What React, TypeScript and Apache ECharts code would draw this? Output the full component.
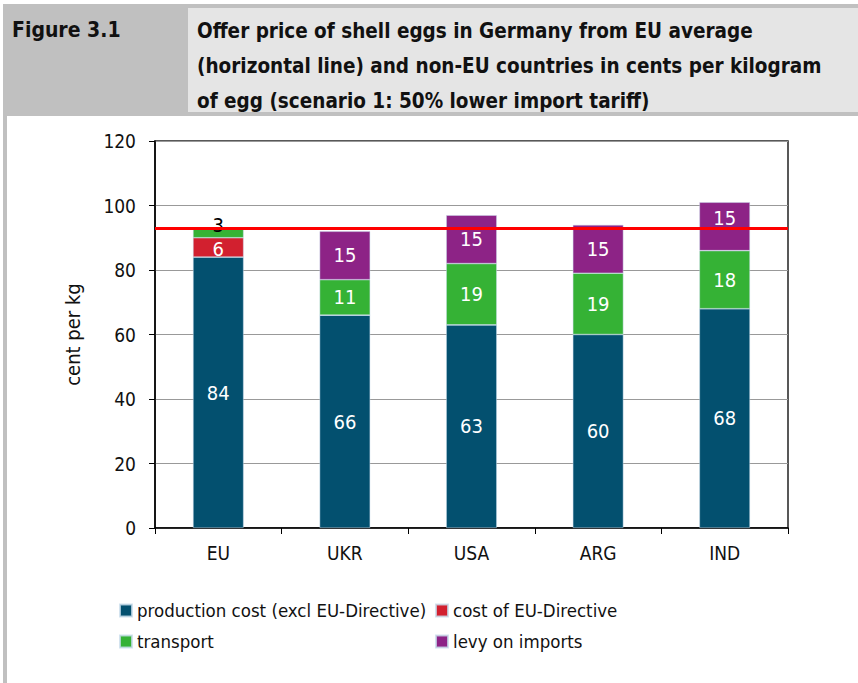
import React, { useEffect, useRef } from "react";
import * as echarts from "echarts";

const categories = ["EU", "UKR", "USA", "ARG", "IND"];
const productionCost = [84, 66, 63, 60, 68];
const directiveCost = [6, 0, 0, 0, 0];
const transport = [3, 11, 19, 19, 18];
const levy = [0, 15, 15, 15, 15];
const euAverage = 93;
const yTicks = { min: 0, max: 120, interval: 20 };

const seriesNames = [
  "production cost (excl EU-Directive)",
  "cost of EU-Directive",
  "transport",
  "levy on imports",
];
const colors = ["#03506f", "#d2202f", "#35b235", "#8d2386"];

const FONT = "'Liberation Sans Narrow', 'DejaVu Sans Condensed', 'Roboto Condensed', sans-serif";

export default function App() {
  const ref = useRef<HTMLDivElement>(null);
  useEffect(() => {
    document.body.style.margin = "0";
    const chart = echarts.init(ref.current!, null, { renderer: "svg" });
    const values = [productionCost, directiveCost, transport, levy];
    const labelFor = (i: number, j: number) => {
      if (i === 2 && j === 0) return { color: "#000", offset: [0, -8] };
      if (i === 1 && j === 0) return { color: "#fff", offset: [0, 2] };
      if (i === 3 && j === 4) return { color: "#fff", offset: [0, -8] };
      return { color: "#fff" };
    };
    const series: any[] = values.map((arr, i) => ({
      name: seriesNames[i],
      type: "bar",
      stack: "total",
      barWidth: "40%",
      data: arr.map((v, j) => ({ value: v, label: labelFor(i, j) })),
      itemStyle: { color: colors[i], borderColor: "rgba(200,220,235,0.8)", borderWidth: 0.6 },
      label: {
        show: true,
        position: "inside",
        fontFamily: FONT,
        fontSize: 20,
        formatter: (p: any) => (p.value ? String(p.value) : ""),
      },
    }));
    series[0].markLine = {
      silent: true,
      symbol: "none",
      label: { show: false },
      lineStyle: { color: "#ff0000", width: 3, type: "solid" },
      data: [{ yAxis: euAverage }],
    };
    const legendText = { fontSize: 18.5, color: "#111", fontFamily: FONT };
    chart.setOption({
      animation: false,
      textStyle: { fontFamily: FONT },
      grid: { left: 155, top: 141, right: 70, bottom: 155, show: true, borderColor: "#222", borderWidth: 1.5 },
      xAxis: {
        type: "category",
        data: categories,
        axisLine: { lineStyle: { color: "#000", width: 1.5 } },
        axisTick: { show: true, length: 6, lineStyle: { color: "#000" } },
        axisLabel: { color: "#111", fontSize: 19, margin: 15, fontFamily: FONT },
      },
      yAxis: {
        type: "value",
        min: yTicks.min,
        max: yTicks.max,
        interval: yTicks.interval,
        name: "cent per kg",
        nameLocation: "middle",
        nameGap: 72,
        nameTextStyle: { color: "#111", fontSize: 20, fontFamily: FONT },
        axisLine: { show: true, lineStyle: { color: "#000", width: 1.5 } },
        axisTick: { show: true, length: 6, lineStyle: { color: "#000" } },
        axisLabel: { color: "#111", fontSize: 19, margin: 19, fontFamily: FONT },
        splitLine: { lineStyle: { color: "#999", width: 1.2 } },
      },
      legend: [
        {
          data: [seriesNames[0], seriesNames[2]],
          orient: "vertical",
          left: 114,
          top: 596,
          itemWidth: 12,
          itemHeight: 12,
          itemGap: 12,
          icon: "rect",
          textStyle: legendText,
        },
        {
          data: [seriesNames[1], seriesNames[3]],
          orient: "vertical",
          left: 430,
          top: 596,
          itemWidth: 12,
          itemHeight: 12,
          itemGap: 12,
          icon: "rect",
          textStyle: legendText,
        },
      ],
      graphic: [
        { type: "rect", shape: { x: 3, y: 4, width: 855, height: 112 }, style: { fill: "#c0c0c0" }, z: 0 },
        { type: "rect", shape: { x: 3, y: 116, width: 4, height: 567 }, style: { fill: "#c0c0c0" }, z: 0 },
        { type: "rect", shape: { x: 188, y: 8, width: 670, height: 104 }, style: { fill: "#e5e5e5" }, z: 1 },
        {
          type: "text",
          x: 12,
          y: 30,
          z: 2,
          style: { text: "Figure 3.1", fontSize: 21, fontWeight: "bold", fontFamily: FONT, fill: "#111", verticalAlign: "middle" },
        },
        {
          type: "text",
          x: 197,
          y: 13,
          z: 2,
          style: {
            text:
              "Offer price of shell eggs in Germany from EU average\n(horizontal line) and non-EU countries in cents per kilogram\nof egg (scenario 1: 50% lower import tariff)",
            fontSize: 20.5,
            lineHeight: 35,
            fontWeight: "bold",
            fontFamily: FONT,
            fill: "#111",
            verticalAlign: "top",
          },
        },
      ],
      series,
    });
    return () => chart.dispose();
  }, []);
  return <div ref={ref} style={{ position: "absolute", left: 0, top: 0, width: 858, height: 683 }} />;
}
